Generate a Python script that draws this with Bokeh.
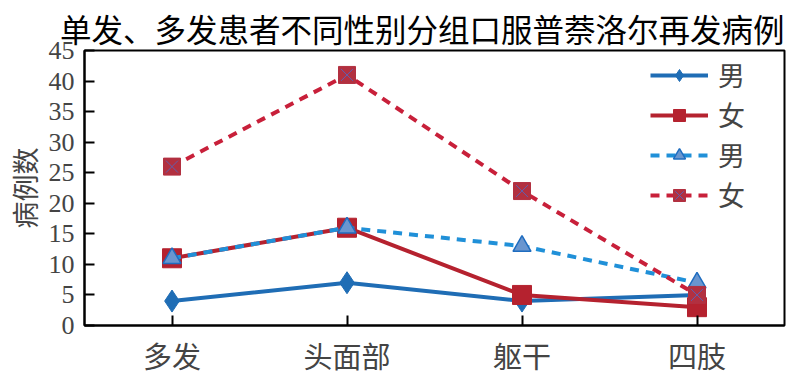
from bokeh.plotting import figure
from bokeh.models import FactorRange, Range1d, Legend, LegendItem, FixedTicker, ColumnDataSource
from bokeh.embed import file_html
from bokeh.resources import INLINE

categories = ["多发", "头面部", "躯干", "四肢"]
male_single = [4, 7, 4, 5]
female_single = [11, 16, 5, 3]
male_multi = [11, 16, 13, 7]
female_multi = [26, 41, 22, 5]
legend_labels = ["男", "女", "男", "女"]
y_ticks = [0, 5, 10, 15, 20, 25, 30, 35, 40, 45]

CJK = "Noto Sans CJK SC"
SERIF = "Liberation Serif"

p = figure(width=800, height=378, x_range=FactorRange(*categories), y_range=Range1d(0, 45),
           output_backend="svg", toolbar_location=None,
           min_border_left=84, min_border_right=16, min_border_top=50, min_border_bottom=53)

p.title.text = "单发、多发患者不同性别分组口服普萘洛尔再发病例"
p.title.text_font = CJK
p.title.text_font_size = "31.5px"
p.title.text_font_style = "normal"
p.title.align = "right"
p.title.text_color = "black"
p.title.standoff = 0

p.xgrid.visible = False
p.ygrid.visible = False
p.outline_line_color = "black"
p.outline_line_width = 2
p.outline_line_alpha = 1

for ax in (p.xaxis[0], p.yaxis[0]):
    ax.axis_line_width = 2
    ax.axis_line_color = "black"
    ax.major_tick_in = 10
    ax.major_tick_out = 0
    ax.major_tick_line_width = 2
    ax.minor_tick_line_color = None

p.yaxis.ticker = FixedTicker(ticks=y_ticks)
p.yaxis.major_label_text_font = SERIF
p.yaxis.major_label_text_font_size = "26px"
p.yaxis.major_label_standoff = 10
p.yaxis.axis_label = "病例数"
p.yaxis.axis_label_text_font = CJK
p.yaxis.axis_label_text_font_size = "27px"
p.yaxis.axis_label_text_font_style = "normal"
p.yaxis.axis_label_standoff = 2

p.xaxis.major_label_text_font = CJK
p.xaxis.major_label_text_font_size = "29px"
p.xaxis.major_label_standoff = 8

src = ColumnDataSource(dict(x=categories, ms=male_single, fs=female_single, mm=male_multi, fm=female_multi))

blue = "#1f6db5"
red = "#b5222f"
lblue = "#2090d8"
dred = "#c8203a"

l1 = p.line("x", "ms", source=src, line_color=blue, line_width=4)
m1 = p.scatter("x", "ms", source=src, marker="diamond", size=22, fill_color=blue, line_color=blue)

l2 = p.line("x", "fs", source=src, line_color=red, line_width=4)
m2 = p.scatter("x", "fs", source=src, marker="square", size=19, fill_color=red, line_color=red)

l3 = p.line("x", "mm", source=src, line_color=lblue, line_width=4, line_dash="9 7")
m3 = p.scatter("x", "mm", source=src, marker="triangle", size=18, fill_color="#6a96cf", line_color="#1f6dc0", line_width=1.5)

l4 = p.line("x", "fm", source=src, line_color=dred, line_width=4, line_dash="9 7")
m4 = p.scatter("x", "fm", source=src, marker="square", size=17, fill_color="#b23040", line_color="#b23040")
m4x = p.scatter("x", "fm", source=src, marker="x", size=17, line_color="#6060b0", line_width=1)

items = [
    LegendItem(label=legend_labels[0], renderers=[l1, m1]),
    LegendItem(label=legend_labels[1], renderers=[l2, m2]),
    LegendItem(label=legend_labels[2], renderers=[l3, m3]),
    LegendItem(label=legend_labels[3], renderers=[l4, m4, m4x]),
]
legend = Legend(items=items, location=(566, 111), padding=0, margin=0, spacing=1,
                glyph_width=58, glyph_height=30, label_height=30, label_standoff=10,
                label_text_font=CJK, label_text_font_size="27px",
                border_line_color=None, background_fill_alpha=0)
p.add_layout(legend, "center")

open("out.html", "w").write(file_html(p, INLINE))
